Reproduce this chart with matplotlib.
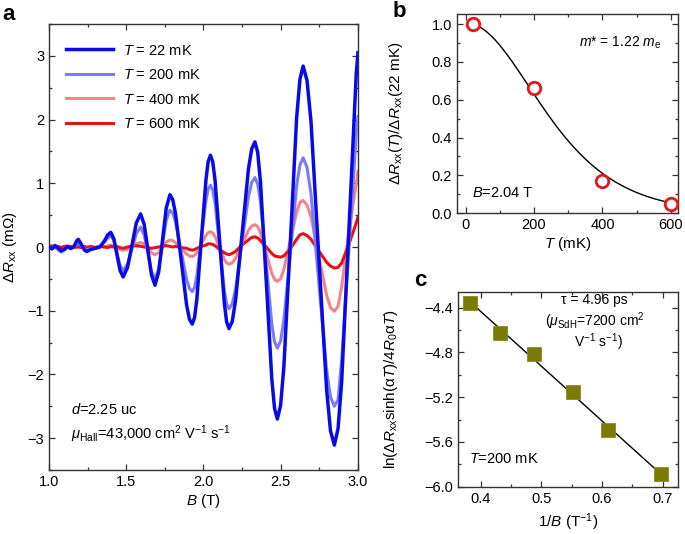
import numpy as np
import matplotlib
matplotlib.use("Agg")
import matplotlib.pyplot as plt
from matplotlib.ticker import MultipleLocator, FormatStrFormatter, FuncFormatter

plt.rcParams['font.family'] = ['Liberation Sans', 'DejaVu Sans']
plt.rcParams['mathtext.fontset'] = 'custom'
plt.rcParams['mathtext.rm'] = 'Liberation Sans'
plt.rcParams['mathtext.it'] = 'Liberation Sans:italic'
plt.rcParams['mathtext.bf'] = 'Liberation Sans:bold'
plt.rcParams['axes.linewidth'] = 1.0
plt.rcParams['axes.edgecolor'] = '#333333'

# ---------------- Panel a data ----------------
B_grid = [1.00, 1.02, 1.04, 1.06, 1.08, 1.10, 1.12, 1.14, 1.16, 1.18,
          1.19, 1.21, 1.23, 1.245, 1.27, 1.30, 1.33, 1.36, 1.38, 1.40,
          1.42, 1.44, 1.46, 1.48, 1.508, 1.537, 1.565, 1.593, 1.616, 1.640,
          1.663, 1.686, 1.710, 1.735, 1.759, 1.783, 1.801, 1.819, 1.855, 1.891,
          1.909, 1.927, 1.942, 1.957, 1.986, 2.016, 2.030, 2.045, 2.060, 2.075,
          2.105, 2.135, 2.150, 2.165, 2.186, 2.207, 2.249, 2.291, 2.312, 2.333,
          2.351, 2.369, 2.406, 2.442, 2.460, 2.478, 2.499, 2.520, 2.562, 2.603,
          2.624, 2.645, 2.670, 2.696, 2.746, 2.797, 2.822, 2.847, 2.871, 2.8945,
          2.942, 2.989, 3.00]

R_22mK = [0.00, -0.03, 0.02, -0.02, -0.06, -0.04, 0.01, -0.02, 0.00, 0.10,
          0.12, 0.04, -0.05, -0.07, -0.04, -0.02, 0.00, 0.10, 0.19, 0.23,
          0.128, -0.12, -0.368, -0.47, -0.325, 0.025, 0.375, 0.52, 0.356, -0.04,
          -0.436, -0.60, -0.393, 0.11, 0.613, 0.82, 0.743, 0.524, -0.195, -0.914,
          -1.133, -1.21, -1.109, -0.823, 0.115, 1.053, 1.339, 1.44, 1.337, 1.043,
          0.08, -0.883, -1.177, -1.28, -1.169, -0.852, 0.185, 1.222, 1.539, 1.65,
          1.485, 1.015, -0.525, -2.065, -2.535, -2.70, -2.489, -1.891, 0.07, 2.031,
          2.629, 2.84, 2.614, 1.971, -0.135, -2.241, -2.884, -3.11, -2.85, -2.11,
          0.31, 2.73, 3.05]

R_200mK = [0.00, -0.02, 0.03, -0.05, -0.08, -0.03, 0.00, -0.03, 0.00, 0.04,
           0.06, 0.02, -0.03, -0.04, -0.03, -0.02, 0.01, 0.08, 0.14, 0.18,
           0.10, -0.095, -0.29, -0.37, -0.27, -0.03, 0.21, 0.31, 0.19, -0.095,
           -0.38, -0.50, -0.34, 0.04, 0.42, 0.58, 0.531, 0.393, -0.06, -0.513,
           -0.651, -0.70, -0.636, -0.456, 0.135, 0.726, 0.906, 0.97, 0.896, 0.687,
           0.0, -0.687, -0.896, -0.97, -0.892, -0.669, 0.06, 0.789, 1.012, 1.09,
           0.988, 0.699, -0.25, -1.199, -1.488, -1.59, -1.476, -1.153, -0.095, 0.963,
           1.286, 1.40, 1.252, 0.831, -0.55, -1.931, -2.352, -2.50, -2.40, -1.77,
           0.0, 1.77, 2.05]

R_400mK = [0.01, -0.01, 0.02, 0.0, -0.02, 0.01, 0.02, -0.01, 0.01, 0.0,
           -0.01, 0.01, -0.02, 0.0, -0.02, 0.0, 0.01, 0.0, 0.02, 0.03,
           0.01, -0.02, -0.04, -0.05, -0.03, 0.02, 0.05, 0.07, 0.05, -0.02,
           -0.09, -0.12, -0.09, 0.0, 0.08, 0.11, 0.10, 0.07, -0.02, -0.11,
           -0.14, -0.15, -0.13, -0.093, 0.045, 0.183, 0.225, 0.24, 0.22, 0.166,
           -0.015, -0.196, -0.25, -0.27, -0.25, -0.179, 0.04, 0.259, 0.33, 0.35,
           0.32, 0.22, -0.095, -0.41, -0.51, -0.54, -0.50, -0.355, 0.095, 0.545,
           0.70, 0.73, 0.66, 0.476, -0.14, -0.756, -0.95, -1.01, -0.93, -0.62,
           0.25, 1.0, 1.19]

R_600mK = [0.0, 0.02, -0.01, 0.01, -0.01, 0.01, -0.01, 0.01, -0.01, 0.0,
           0.01, -0.01, 0.01, -0.01, 0.01, -0.01, 0.01, 0.0, -0.01, 0.01,
           0.0, 0.01, -0.01, -0.02, 0.0, 0.01, 0.02, 0.01, 0.0, -0.01,
           -0.02, -0.01, 0.0, 0.01, 0.02, 0.01, 0.0, 0.01, -0.01, -0.02,
           -0.04, -0.05, -0.04, -0.02, 0.01, 0.03, 0.05, 0.05, 0.04, 0.02,
           -0.04, -0.09, -0.11, -0.12, -0.10, -0.07, 0.03, 0.11, 0.15, 0.16,
           0.14, 0.10, 0.0, -0.10, -0.14, -0.15, -0.16, -0.14, -0.03, 0.12,
           0.19, 0.21, 0.18, 0.12, -0.06, -0.24, -0.30, -0.33, -0.32, -0.25,
           0.05, 0.38, 0.47]

series_labels = [r'$T$ = 22 mK', r'$T$ = 200 mK', r'$T$ = 400 mK', r'$T$ = 600 mK']
series_colors = ['#0a0ae6', '#7c7cf2', '#f28585', '#e51414']

# ---------------- Panel b data ----------------
T_points = [22, 200, 400, 600]
ratio_points = [1.0, 0.662, 0.170, 0.047]
m_eff = 1.22      # effective mass (m_e) of the fitted curve
B_fit = 2.04      # T

# ---------------- Panel c data ----------------
invB = [0.383, 0.432, 0.488, 0.552, 0.610, 0.698]
lnval = [-4.355, -4.63, -4.81, -5.155, -5.495, -5.89]

fig = plt.figure(figsize=(6.85, 5.34), dpi=100)

FS_TICK = 10.5
FS_LAB = 11

def style_axes(ax):
    ax.tick_params(which='both', direction='in', top=True, right=True,
                   labelsize=FS_TICK, colors='#333333', labelcolor='black')
    ax.tick_params(which='major', length=4.5, width=0.9)
    ax.tick_params(which='minor', length=2.5, width=0.9)

minus_fmt = FuncFormatter(lambda v, p: ('%.1f' % v).replace('-', '\u2212'))

# ---- panel a ----
axa = fig.add_axes([0.0715, 0.1199, 0.4511, 0.8351])
lws = [2.5, 2.2, 2.2, 2.2]
zs = [4, 3, 2, 2.5]
for vals, lab, col, lw, z in zip([R_22mK, R_200mK, R_400mK, R_600mK],
                                 series_labels, series_colors, lws, zs):
    axa.plot(B_grid, vals, color=col, lw=lw, label=lab, zorder=z,
             solid_joinstyle='round')
axa.set_xlim(1.0, 3.0)
axa.set_ylim(-3.5, 3.5)
axa.xaxis.set_major_locator(MultipleLocator(0.5))
axa.xaxis.set_minor_locator(MultipleLocator(0.25))
axa.yaxis.set_major_locator(MultipleLocator(1))
axa.yaxis.set_minor_locator(MultipleLocator(0.5))
axa.xaxis.set_major_formatter(FormatStrFormatter('%.1f'))
style_axes(axa)
axa.set_xlabel(r'$B$ (T)', fontsize=FS_LAB, labelpad=2)
axa.set_ylabel(r'$\Delta R_{\rm xx}$ (mΩ)', fontsize=FS_LAB)
axa.yaxis.set_label_coords(-0.097, 0.5)
axa.legend(loc='upper left', frameon=False, fontsize=10.5,
           handlelength=3.2, handletextpad=0.7, labelspacing=0.72,
           borderaxespad=0.3, bbox_to_anchor=(0.023, 0.979))
axa.text(1.14, -2.55, r'$d$=2.25 uc', fontsize=10.5, va='center', ha='left')
axa.text(1.14, -2.94, r'$\mu_{\rm Hall}$=43,000 cm$^2$ V$^{-1}$ s$^{-1}$',
         fontsize=10.5, va='center', ha='left')

# ---- panel b ----
axb = fig.add_axes([0.6672, 0.6007, 0.3222, 0.3731])
T_curve = np.linspace(T_points[0], 600, 300)
alpha_c = 14.69  # 2 pi^2 k_B m_e / (hbar e), T/K
X = alpha_c * m_eff * (T_curve / 1000.0) / B_fit
X0 = alpha_c * m_eff * (T_points[0] / 1000.0) / B_fit
lk = (X / np.sinh(X)) / (X0 / np.sinh(X0))
axb.plot(T_curve, lk, color='black', lw=1.0, zorder=2)
axb.plot(T_points, ratio_points, 'o', ms=9, mfc='white', mec='#e8141c',
         mew=2.0, zorder=3, clip_on=False)
axb.set_xlim(-25, 620)
axb.set_ylim(0, 1.053)
axb.xaxis.set_major_locator(MultipleLocator(200))
axb.xaxis.set_minor_locator(MultipleLocator(100))
axb.yaxis.set_major_locator(MultipleLocator(0.2))
axb.yaxis.set_minor_locator(MultipleLocator(0.1))
axb.yaxis.set_major_formatter(FormatStrFormatter('%.1f'))
style_axes(axb)
axb.set_xlabel(r'$T$ (mK)', fontsize=FS_LAB, labelpad=2)
axb.set_ylabel(r'$\Delta R_{\rm xx}(T)/\Delta R_{\rm xx}$(22 mK)',
               fontsize=FS_LAB)
axb.yaxis.set_label_coords(-0.236, 0.5)
axb.text(570, 0.90, r'$m$* = 1.22 $m_{\rm e}$', fontsize=10, ha='right',
         va='center')
axb.text(18, 0.106, r'$B$=2.04 T', fontsize=10.5, ha='left', va='center')

# ---- panel c ----
axc = fig.add_axes([0.6691, 0.0886, 0.3203, 0.3652])
coef = np.polyfit(invB, lnval, 1)
xl = np.array([invB[0], invB[-1]])
axc.plot(xl, np.polyval(coef, xl), color='black', lw=1.0, zorder=2)
axc.plot(invB, lnval, 's', ms=10, color='#7a7a04', mec='#8a8a20', mew=0.6,
         zorder=3, clip_on=False)
axc.set_xlim(0.363, 0.725)
axc.set_ylim(-6.0, -4.257)
axc.xaxis.set_major_locator(MultipleLocator(0.1))
axc.xaxis.set_minor_locator(MultipleLocator(0.05))
axc.yaxis.set_major_locator(MultipleLocator(0.4))
axc.yaxis.set_minor_locator(MultipleLocator(0.2))
axc.xaxis.set_major_formatter(FormatStrFormatter('%.1f'))
axc.yaxis.set_major_formatter(minus_fmt)
style_axes(axc)
axc.set_xlabel(r'1/$B$ (T$^{-1}$)', fontsize=FS_LAB, labelpad=4)
axc.set_ylabel(r'ln($\Delta R_{\rm xx}$sinh(α$T$)/4$R_0$α$T$)',
               fontsize=FS_LAB)
axc.yaxis.set_label_coords(-0.266, 0.5)
axc.text(0.588, -4.335, 'τ = 4.96 ps', fontsize=10, ha='center', va='center')
axc.text(0.588, -4.525, r'($\mu_{\rm SdH}$=7200 cm$^2$', fontsize=10,
         ha='center', va='center')
axc.text(0.594, -4.712, r'V$^{-1}$ s$^{-1}$)', fontsize=10, ha='center',
         va='center')
axc.text(0.381, -5.756, r'$T$=200 mK', fontsize=10.5, ha='left', va='center')

# panel letters
fig.text(0.003, 0.993, 'a', fontsize=16, fontweight='bold', va='top', ha='left')
fig.text(0.573, 0.998, 'b', fontsize=16, fontweight='bold', va='top', ha='left')
fig.text(0.604, 0.495, 'c', fontsize=16, fontweight='bold', va='top', ha='left')

fig.savefig('out.png', dpi=100)
